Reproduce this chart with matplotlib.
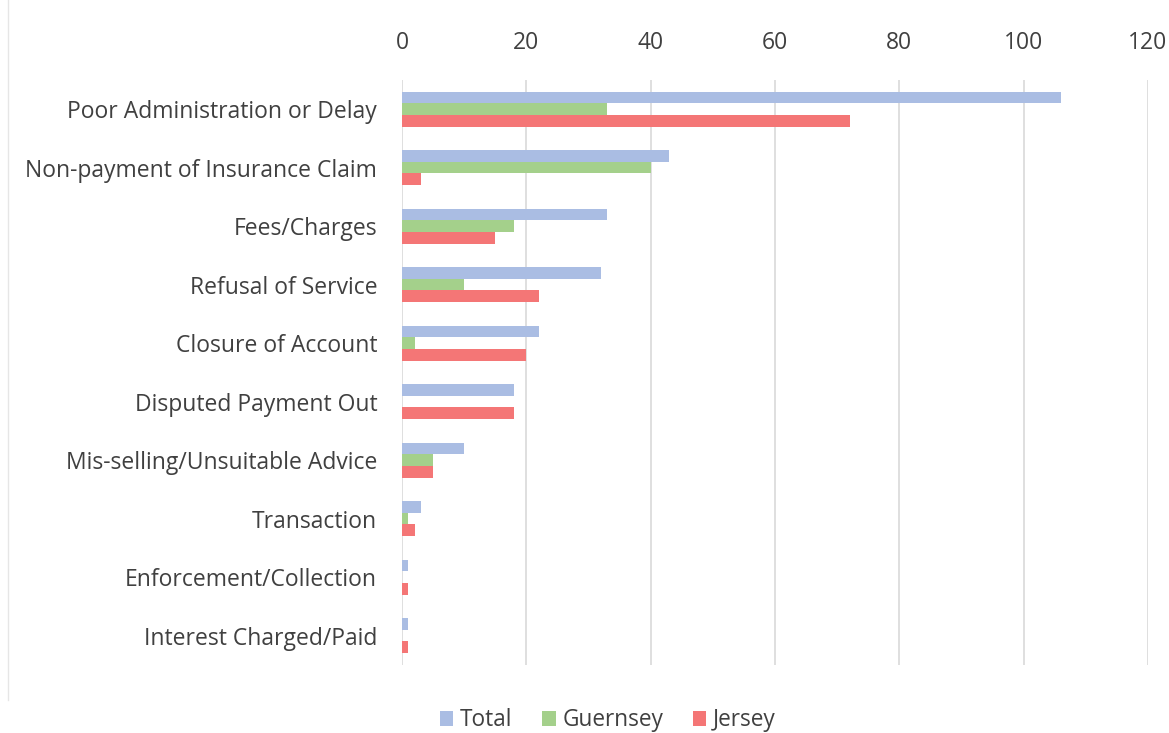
import numpy as np
import matplotlib
matplotlib.use("Agg")
import matplotlib.pyplot as plt
from matplotlib.lines import Line2D

plt.rcParams['font.family'] = ['Open Sans', 'DejaVu Sans']

# data
categories = ["Poor Administration or Delay", "Non-payment of Insurance Claim",
              "Fees/Charges", "Refusal of Service", "Closure of Account",
              "Disputed Payment Out", "Mis-selling/Unsuitable Advice",
              "Transaction", "Enforcement/Collection", "Interest Charged/Paid"]
total = [106, 43, 33, 32, 22, 18, 10, 3, 1, 1]
guernsey = [33, 40, 18, 10, 2, 0, 5, 1, 0, 0]
jersey = [72, 3, 15, 22, 20, 18, 5, 2, 1, 1]
series_names = ["Total", "Guernsey", "Jersey"]
x_ticks = [0, 20, 40, 60, 80, 100, 120]

colors = ["#AABDE3", "#A4D08B", "#F47676"]
text_col = "#404040"

fig = plt.figure(figsize=(11.69, 7.33), dpi=100)
ax = fig.add_axes([0.344, 0.093, 0.638, 0.798])

y = np.arange(len(categories))
h = 0.2
for i, (vals, name, c) in enumerate(zip([total, guernsey, jersey], series_names, colors)):
    ax.barh(y + (i - 1) * h, vals, height=h, color=c, label=name, zorder=3)

ax.set_ylim(len(categories) - 0.5, -0.5)
ax.set_xlim(0, 120)
ax.set_xticks(x_ticks)
ax.xaxis.tick_top()
ax.set_yticks(y)
ax.set_yticklabels(categories)
ax.tick_params(axis='both', length=0, labelsize=16.5, colors=text_col)
ax.tick_params(axis='x', pad=18)
ax.tick_params(axis='y', pad=18)
ax.grid(axis='x', color="#D9D9D9", linewidth=1.2, zorder=0)
for s in ax.spines.values():
    s.set_visible(False)

leg = fig.legend(loc='lower center', bbox_to_anchor=(0.52, -0.027), ncol=3,
                 frameon=False, fontsize=16.3, handlelength=0.6, handleheight=0.6,
                 handletextpad=0.3, columnspacing=1.3)
for t in leg.get_texts():
    t.set_color(text_col)

# faint chart-area border on the left
fig.add_artist(Line2D([0.007, 0.007], [0.045, 1.0], color="#E6E6E6", linewidth=1))

fig.savefig("out.png", dpi=100)
